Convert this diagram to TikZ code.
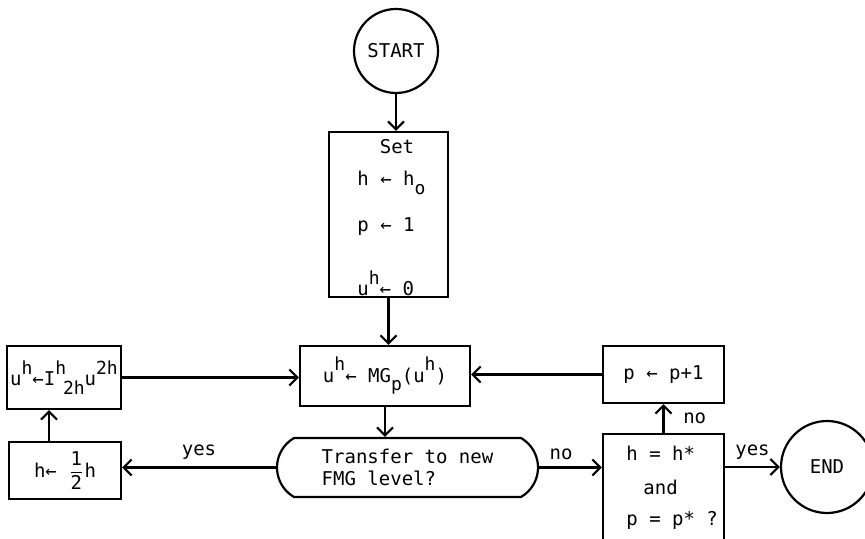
\documentclass[tikz,border=0pt]{standalone}
\usepackage{fontspec}
\usepackage{amsmath}
\setmainfont{DejaVu Sans Mono}
\usetikzlibrary{arrows.meta,shapes.misc}
\newcommand{\sps}[1]{\raisebox{0.6em}{\small #1}}
\newcommand{\sbs}[1]{\raisebox{-0.45em}{\small #1}}
\tikzset{
  box/.style={draw,line width=1.1pt,inner sep=0pt},
  term/.style={draw,circle,line width=1.1pt,inner sep=0pt},
  ask/.style={draw,rounded rectangle,rounded rectangle arc length=120,line width=1.1pt,inner sep=0pt,align=left},
  flow/.style={line width=1.1pt,-{Straight Barb[length=4pt,width=8pt]}},
  txt/.style={inner sep=0pt}
}
\begin{document}
\begin{tikzpicture}[x=0.5pt,y=-0.5pt,font=\fontsize{9.5}{11}\selectfont]
  \useasboundingbox (0,0) rectangle (865,539);
  \clip (0,0) rectangle (865,539);
  \node[term,minimum size=42pt] (start) at (396,51) {START};
  \node[box,minimum width=59.5pt,minimum height=82.5pt] (set) at (388.5,214.5) {};
  \node[txt] (set0) at (397,147) {Set};
  \node[txt,anchor=west] (set1) at (357,183) {h ← h\sbs{o}};
  \node[txt,anchor=west] (set2) at (357,227) {p ← 1};
  \node[txt,anchor=west] (set3) at (357,283) {u\sps{h}← 0};
  \node[box,minimum width=85pt,minimum height=30pt] (mg) at (385,376) {u\sps{h}← MG\sbs{p}(u\sps{h})};
  \node[ask,minimum width=130.5pt,minimum height=29.5pt] (dec) at (407.5,467.5) {Transfer to new\\FMG level?};
  \node[box,minimum width=57pt,minimum height=31.5pt] (interp) at (64,377.5) {u\sps{h}←I\sps{h}\!\sbs{2h}u\sps{2h}};
  \node[box,minimum width=56pt,minimum height=28.5pt] (halve) at (65,470.5) {h← $\genfrac{}{}{0.4pt}{0}{\text{1}}{\text{2}}$h};
  \node[box,minimum width=60.5pt,minimum height=28.5pt] (inc) at (663.5,374.5) {p ← p+1};
  \node[box,minimum width=60.5pt,minimum height=63pt] (check) at (663.5,497) {};
  \node[txt,anchor=west] (chk1) at (626,453) {h = h*};
  \node[txt,anchor=west] (chk2) at (643,487) {and};
  \node[txt,anchor=west] (chk3) at (626,520) {p = p* ?};
  \node[term,minimum size=46pt] (stop) at (827,467) {END};

  \draw[flow] (start.south) -- (start.south |- set.north);
  \draw[flow] (set.south) -- (set.south |- mg.north);
  \draw[flow] (mg.south) -- (mg.south |- dec.north);
  \draw[flow] (dec.west) -- (dec.west -| halve.east) node[midway,above] {yes};
  \draw[flow] ([xshift=-8pt]halve.north) -- ([xshift=-8pt]halve.north |- interp.south);
  \draw[flow] (interp.east) -- (interp.east -| mg.west);
  \draw[flow] (dec.east) -- (dec.east -| check.west) node[pos=0.35,above] {no};
  \draw[flow] (check.north) -- (check.north |- inc.south) node[midway,right=6pt] {no};
  \draw[flow] (inc.west) -- (inc.west -| mg.east);
  \draw[flow] (stop.west -| check.east) -- (stop.west) node[midway,above] {yes};
\end{tikzpicture}
\end{document}
